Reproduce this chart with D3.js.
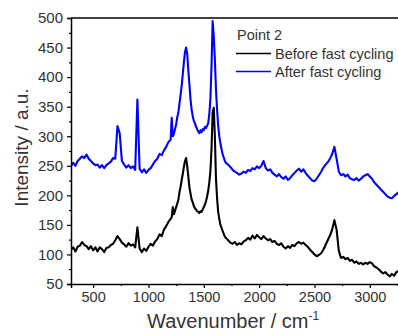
<!DOCTYPE html>
<html>
<head>
<meta charset="utf-8">
<script src="https://cdn.jsdelivr.net/npm/d3@7"></script>
<style>
  html, body { margin: 0; padding: 0; background: #fff; }
  svg { display: block; font-family: "Liberation Sans", Arial, sans-serif; }
</style>
</head>
<body>
<div id="chart"></div>
<script>
// ---- data ----
const wavenumbers = [
  300,320,340,360,380,400,420,440,460,480,500,520,540,560,580,600,620,640,660,680,
  700,720,740,760,780,800,820,840,860,880,900,920,940,960,980,1000,1020,1040,1060,1080,
  1100,1120,1140,1160,1180,1200,
  1210,1220,1230,1240,1250,1260,1270,1280,1290,1300,1310,1320,1330,1340,1350,1360,1370,1380,1390,1400,
  1410,1420,1430,1440,1450,1460,1470,1480,1490,1500,1510,1520,1530,1540,1550,1560,1570,1580,1590,1600,
  1610,1620,1630,1640,1650,1660,1670,1680,1690,1700,
  1720,1740,1760,1780,1800,1820,1840,1860,1880,1900,1920,1940,1960,1980,2000,2020,2040,2060,2080,2100,
  2120,2140,2160,2180,2200,2220,2240,2260,2280,2300,2320,2340,2360,2380,2400,2420,2440,2460,2480,2500,
  2520,2540,2560,2580,2600,2620,2640,2660,2680,2700,2720,2740,2760,2780,2800,2820,2840,2860,2880,2900,
  2920,2940,2960,2980,3000,3020,3040,3060,3080,3100,3120,3140,3160,3180,3200,3220,3240,3260
];

const beforeFastCycling = [
  108,112,105,113,115,121,116,114,109,114,107,112,105,112,109,104,111,112,116,118,
  124,131,126,120,117,113,119,115,117,112,146,110,104,110,106,113,118,115,122,126,
  134,131,142,148,155,160,
  163,180,168,174,180,186,192,205,214,226,236,248,258,263,250,232,214,203,193,188,
  182,178,176,173,172,170,173,172,176,180,184,190,198,208,222,242,280,340,348,300,
  228,195,172,160,150,145,140,135,130,128,
  124,120,118,121,116,119,117,122,124,128,125,132,127,133,129,126,131,127,124,126,
  121,123,118,116,119,113,110,114,111,116,114,119,121,118,120,116,113,108,104,100,
  97,99,102,108,116,124,132,142,158,142,106,94,96,92,94,89,91,86,88,84,
  86,83,86,84,87,85,80,78,75,71,68,70,66,63,67,64,70,72
];

const afterFastCycling = [
  250,255,250,258,262,266,263,269,262,258,254,251,252,247,251,246,251,254,257,263,
  262,317,305,258,252,247,251,246,249,243,362,245,239,244,238,243,246,252,258,262,
  270,268,276,282,290,294,
  331,300,304,312,320,332,340,355,370,385,405,425,442,450,440,412,388,362,345,334,
  326,322,316,312,308,305,310,307,312,310,316,314,318,322,338,365,420,495,470,430,
  380,345,318,300,288,278,270,264,258,255,
  252,248,243,240,238,235,237,240,238,243,241,246,244,249,246,250,258,246,242,244,
  238,235,232,236,231,228,232,226,229,234,238,242,245,240,244,238,233,229,225,224,
  228,234,240,247,252,256,262,270,282,262,240,234,236,232,235,229,227,226,229,225,
  228,232,234,236,232,228,222,218,214,210,206,202,198,196,195,199,202,205
];

const xTickValues = [500, 1000, 1500, 2000, 2500, 3000];
const xMinorTickValues = [750, 1250, 1750, 2250, 2750, 3250];
const yTickValues = [50, 100, 150, 200, 250, 300, 350, 400, 450, 500];
const yMinorTickValues = [75, 125, 175, 225, 275, 325, 375, 425, 475];

const legendTitle = "Point 2";
const seriesNames = ["Before fast cycling", "After fast cycling"];
const seriesColors = ["#000000", "#0000ff"];
const xTitle = "Wavenumber / cm";
const xTitleSup = "-1";
const yTitle = "Intensity / a.u.";

(function () {
  // ---- layout ----
  const W = 398, H = 335;
  const mLeft = 71, mTop = 18, mBottom = 284, mRight = 403;

  const svg = d3.select("#chart").append("svg")
    .attr("width", W).attr("height", H);

  const x = d3.scaleLinear().domain([300, 3300]).range([mLeft, mRight]);
  const y = d3.scaleLinear().domain([50, 500]).range([mBottom, mTop]);

  svg.append("defs").append("clipPath").attr("id", "plotclip")
    .append("rect").attr("x", mLeft).attr("y", mTop)
    .attr("width", mRight - mLeft).attr("height", mBottom - mTop);

  // series
  const series = [beforeFastCycling, afterFastCycling];
  const line = d3.line()
    .x((d, i) => x(wavenumbers[i]))
    .y(d => y(d));

  const plot = svg.append("g").attr("clip-path", "url(#plotclip)");
  series.forEach((vals, k) => {
    plot.append("path")
      .datum(vals)
      .attr("fill", "none")
      .attr("stroke", seriesColors[k])
      .attr("stroke-width", 2.1)
      .attr("stroke-linejoin", "round")
      .attr("d", line);
  });

  // axes
  const tickColor = "#333";
  const xAxis = d3.axisBottom(x).tickValues(xTickValues).tickSize(4).tickPadding(4).tickFormat(d3.format("d"));
  const xMinor = d3.axisBottom(x).tickValues(xMinorTickValues).tickSize(2).tickFormat("");
  const yAxis = d3.axisLeft(y).tickValues(yTickValues).tickSize(4).tickPadding(4).tickFormat(d3.format("d"));
  const yMinor = d3.axisLeft(y).tickValues(yMinorTickValues).tickSize(2).tickFormat("");

  function styleAxis(g, fs) {
    g.select(".domain").attr("stroke", "#000").attr("stroke-width", 1.5);
    g.selectAll(".tick line").attr("stroke", "#000").attr("stroke-width", 1.2);
    g.selectAll(".tick text").attr("fill", tickColor)
      .style("font-size", fs + "px")
      .style("font-family", '"Liberation Sans", Arial, sans-serif');
  }

  const gx = svg.append("g").attr("transform", `translate(0,${mBottom})`).call(xAxis);
  styleAxis(gx, 14.5);
  const gxm = svg.append("g").attr("transform", `translate(0,${mBottom})`).call(xMinor);
  styleAxis(gxm, 14.5);
  gxm.select(".domain").remove();

  const gy = svg.append("g").attr("transform", `translate(${mLeft},0)`).call(yAxis);
  styleAxis(gy, 15);
  const gym = svg.append("g").attr("transform", `translate(${mLeft},0)`).call(yMinor);
  styleAxis(gym, 15);
  gym.select(".domain").remove();

  // top frame line
  svg.append("line")
    .attr("x1", mLeft).attr("x2", mRight)
    .attr("y1", y(500)).attr("y2", y(500))
    .attr("stroke", "#000").attr("stroke-width", 1.5);

  // axis titles
  const xt = svg.append("text")
    .attr("x", 147).attr("y", 328)
    .attr("fill", tickColor)
    .style("font-size", "20px");
  xt.append("tspan").text(xTitle);
  xt.append("tspan").attr("dy", -8).style("font-size", "12px").text(xTitleSup);

  svg.append("text")
    .attr("transform", `translate(28,${(83 + 212) / 2}) rotate(-90)`)
    .attr("text-anchor", "middle")
    .attr("fill", tickColor)
    .style("font-size", "19px")
    .text(yTitle);

  // legend
  const lg = svg.append("g");
  lg.append("text").attr("x", 237).attr("y", 40).attr("fill", tickColor)
    .style("font-size", "14.5px").text(legendTitle);
  seriesNames.forEach((name, k) => {
    const ly = 53.5 + k * 18;
    lg.append("line").attr("x1", 236).attr("x2", 271).attr("y1", ly).attr("y2", ly)
      .attr("stroke", seriesColors[k]).attr("stroke-width", 1.3);
    lg.append("text").attr("x", 275).attr("y", ly + 5).attr("fill", tickColor)
      .style("font-size", "14.5px").text(name);
  });
})();
</script>
</body>
</html>
